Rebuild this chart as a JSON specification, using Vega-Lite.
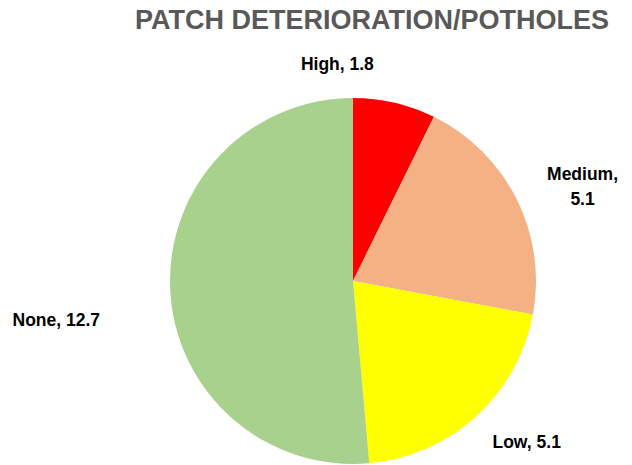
{
  "$schema": "https://vega.github.io/schema/vega-lite/v6.json",
  "width": 400,
  "height": 366,
  "autosize": {"type": "pad"},
  "padding": {"left": 12, "top": 6, "right": 5, "bottom": 2},
  "background": "white",
  "title": {
    "text": "PATCH DETERIORATION/POTHOLES",
    "font": "Liberation Sans",
    "fontSize": 27,
    "fontWeight": "bold",
    "color": "#595959",
    "anchor": "middle",
    "frame": "group",
    "baseline": "alphabetic",
    "dx": 19,
    "offset": -39
  },
  "data": {
    "values": [
      {"category": "High", "value": 1.8, "rank": 1},
      {"category": "Medium", "value": 5.1, "rank": 2},
      {"category": "Low", "value": 5.1, "rank": 3},
      {"category": "None", "value": 12.7, "rank": 4}
    ]
  },
  "transform": [
    {"calculate": "datum.category + ', ' + format(datum.value, '.1f')", "as": "label"},
    {"calculate": "datum.category + ',\\n' + format(datum.value, '.1f')", "as": "label2"}
  ],
  "encoding": {
    "theta": {"field": "value", "type": "quantitative", "stack": true},
    "order": {"field": "rank", "type": "quantitative"}
  },
  "layer": [
    {
      "mark": {"type": "arc", "radius": 183},
      "encoding": {
        "color": {
          "field": "category",
          "type": "nominal",
          "scale": {"domain": ["High", "Medium", "Low", "None"], "range": ["#FF0000", "#F4B183", "#FFFF00", "#A9D18E"]},
          "legend": null
        }
      }
    },
    {
      "mark": {"type": "text", "radius": 200, "dx": -61, "dy": -21},
      "encoding": {"text": {"condition": {"test": "datum.category === 'High'", "field": "label"}, "value": ""}}
    },
    {
      "mark": {"type": "text", "radius": 250, "dx": 6, "dy": 6, "lineBreak": "\n", "lineHeight": 25},
      "encoding": {"text": {"condition": {"test": "datum.category === 'Medium'", "field": "label2"}, "value": ""}}
    },
    {
      "mark": {"type": "text", "radius": 230, "dx": 19, "dy": -8},
      "encoding": {"text": {"condition": {"test": "datum.category === 'Low'", "field": "label"}, "value": ""}}
    },
    {
      "mark": {"type": "text", "radius": 290, "dx": -7, "dy": 27},
      "encoding": {"text": {"condition": {"test": "datum.category === 'None'", "field": "label"}, "value": ""}}
    }
  ],
  "config": {
    "view": {"stroke": null},
    "text": {"font": "Liberation Sans", "fontSize": 17.5, "fontWeight": "bold", "color": "#000000"}
  }
}
